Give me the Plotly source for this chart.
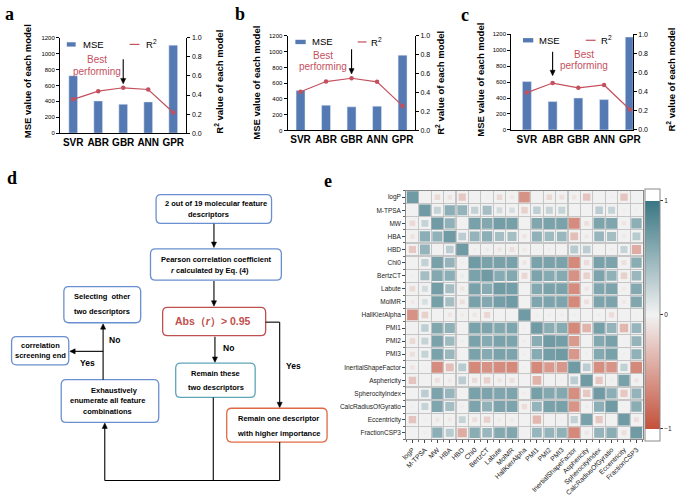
import numpy as np
import plotly.graph_objects as go

W, H = 685, 497
FONT = "Liberation Sans, Arial, sans-serif"
SERIF = "Liberation Serif, Times New Roman, serif"

# ---------------- data ----------------
models = ["SVR", "ABR", "GBR", "ANN", "GPR"]
mse_a = [723, 405, 364, 393, 1108]
r2_a = [0.355, 0.44, 0.476, 0.458, 0.217]
mse_b = [508, 320, 300, 308, 955]
r2_b = [0.41, 0.517, 0.552, 0.514, 0.26]
mse_c = [606, 355, 400, 380, 1165]
r2_c = [0.39, 0.49, 0.44, 0.47, 0.213]
best_a = "GBR"
best_b = "GBR"
best_c = "ABR"

descriptors = ["logP", "M-TPSA", "MW", "HBA", "HBD", "Chi0", "BertzCT", "Labute", "MolMR",
               "HallKierAlpha", "PMI1", "PMI2", "PMI3", "InertialShapeFactor", "Asphericity",
               "SpherocityIndex", "CalcRadiusOfGyratio", "Eccentricity", "FractionCSP3"]

# upper triangle of the Pearson correlation matrix (row i, columns i+1 .. 18)
corr_upper = [
    [0.02, -0.22, -0.14, -0.38, 0.02, 0.05, -0.22, -0.1, -0.85, 0.02, -0.22, -0.17, -0.13, -0.4, 0.02, -0.05, -0.4, 0.0],
    [0.35, 0.78, 0.72, 0.38, 0.6, 0.25, 0.22, -0.3, 0.4, 0.35, 0.35, 0.02, 0.0, 0.42, 0.35, -0.05, -0.05],
    [0.75, 0.02, 0.93, 0.85, 0.97, 0.95, 0.02, 0.87, 0.92, 0.92, -0.9, -0.17, 0.9, 0.88, -0.12, 0.78],
    [0.42, 0.72, 0.78, 0.6, 0.6, -0.12, 0.75, 0.65, 0.68, -0.45, -0.1, 0.7, 0.6, -0.1, 0.45],
    [-0.05, 0.08, -0.12, -0.17, -0.08, -0.03, 0.05, 0.01, 0.45, 0.42, -0.02, -0.06, 0.35, -0.62],
    [0.92, 0.93, 0.93, -0.12, 0.92, 0.92, 0.92, -0.93, -0.2, 0.93, 0.9, -0.17, 0.8],
    [0.82, 0.85, -0.25, 0.9, 0.83, 0.83, -0.85, -0.3, 0.9, 0.75, -0.3, 0.68],
    [0.97, 0.02, 0.85, 0.92, 0.92, -0.9, -0.12, 0.88, 0.9, -0.08, 0.85],
    [0.02, 0.88, 0.9, 0.9, -0.92, -0.17, 0.9, 0.9, -0.1, 0.87],
    [-0.05, -0.06, -0.06, 0.05, 0.02, -0.06, -0.2, 0.0, 0.03],
    [0.8, 0.82, -0.93, -0.55, 0.95, 0.72, -0.52, 0.7],
    [0.97, -0.78, 0.02, 0.85, 0.93, 0.02, 0.72],
    [-0.8, -0.05, 0.85, 0.93, -0.05, 0.75],
    [0.42, -0.88, -0.83, 0.38, -0.93],
    [-0.38, 0.06, 0.93, -0.12],
    [0.78, -0.38, 0.72],
    [0.02, 0.8],
    [-0.17],
]
cbar_ticks = [-1, 0, 1]
cbar_text = ["\u22121", "0", "1"]

# ---------------- helpers ----------------
def X(px):
    return px / W

def Y(py):
    return 1 - py / H

BAR_C = "#5479b3"
LINE_C = "#c4505e"
BLUE_B = "#6a8fd0"
TEAL_B = "#5ea6b8"
RED_B = "#c0504d"
ORG_B = "#df6a45"

fig = go.Figure()
shapes = []
ann = []

def txt(cx, cy, s, size=7.5, color="black", bold=True, angle=0, family=FONT):
    ann.append(dict(text=s, x=X(cx), y=Y(cy), xref="paper", yref="paper", showarrow=False,
                    xanchor="center", yanchor="middle", textangle=angle,
                    font=dict(family=family, size=size, color=color,
                              weight="bold" if bold else "normal")))

def seg(x0, y0, x1, y1, color="black", width=1.1):
    shapes.append(dict(type="line", xref="paper", yref="paper", x0=X(x0), y0=Y(y0),
                       x1=X(x1), y1=Y(y1), line=dict(color=color, width=width)))

def arrow(tx, ty, sx, sy, L=5.5, hw=2.6):
    d = np.hypot(tx - sx, ty - sy)
    ux, uy = (tx - sx) / d, (ty - sy) / d
    bx, by = tx - ux * L, ty - uy * L
    seg(sx, sy, bx + ux * 0.5, by + uy * 0.5)
    px, py = -uy, ux
    pts = [(tx, ty), (bx + px * hw, by + py * hw), (bx - px * hw, by - py * hw)]
    p = "M" + " L".join(f"{X(a)},{Y(b)}" for a, b in pts) + " Z"
    shapes.append(dict(type="path", xref="paper", yref="paper", path=p,
                       fillcolor="black", line=dict(color="black", width=0.5)))

panels = [
    # (xaxis, yleft, yright, mse, r2, best, xdom, ydom, xrange, legend, best text, arrow, titles)
    ("x", "y", "y2", mse_a, r2_a, best_a, (56, 185), (34.3, 131), (-0.53, 4.53),
     (63, 72, 41, 77, 127, 137, 142), (93.5, 56.7, 68.3), (56, 81), (23.3, 218.5, 78.5)),
    ("x2", "y3", "y4", mse_b, r2_b, best_b, (288, 418), (32.3, 128.3), (-0.51, 4.49),
     (296, 306.5, 38.5, 311, 359.5, 368.5, 371), (324.5, 52.3, 63.3), (46, 71), (256.7, 443.3, 80)),
    ("x3", "y5", "y6", mse_c, r2_c, best_c, (516, 640), (30.7, 127.7), (-0.61, 4.12),
     (528, 538.5, 36.8, 542.5, 592, 602, 606), (590.5, 51.7, 62.7), (48.5, 72.7), (485, 678.5, 77)),
]

layout_axes = {}
for i, (xa, yl, yr, mse, r2, best, xd, yd, xr, lg, bt, arr, tt) in enumerate(panels):
    fig.add_trace(go.Bar(x=models, y=mse, xaxis=xa, yaxis=yl, marker_color=BAR_C,
                         width=0.35, showlegend=False, name="MSE"))
    fig.add_trace(go.Scatter(x=models, y=r2, xaxis=xa, yaxis=yr, mode="lines+markers",
                             line=dict(color=LINE_C, width=1.2),
                             marker=dict(color=LINE_C, size=4.5), showlegend=False, name="R²"))
    xkey = "xaxis" if xa == "x" else "xaxis" + xa[1:]
    ylkey = "yaxis" if yl == "y" else "yaxis" + yl[1:]
    yrkey = "yaxis" + yr[1:]
    layout_axes[xkey] = dict(domain=[X(xd[0]), X(xd[1])], anchor=yl, range=list(xr),
                             type="category", showline=True, linecolor="black", linewidth=1,
                             ticks="", showgrid=False, zeroline=False,
                             tickfont=dict(family=FONT, size=10, color="black", weight="bold"))
    layout_axes[ylkey] = dict(domain=[Y(yd[1]), Y(yd[0])], anchor=xa, range=[0, 1200], dtick=200,
                              ticks="outside", ticklen=3, tickwidth=1, tickcolor="black",
                              showline=True, linecolor="black", linewidth=1,
                              showgrid=False, zeroline=False,
                              tickfont=dict(family=FONT, size=6, color="black"))
    layout_axes[yrkey] = dict(overlaying=yl, side="right", anchor=xa, range=[0, 1], dtick=0.2,
                              tickformat=".1f", ticks="outside", ticklen=3, tickwidth=1,
                              tickcolor="black", showline=True, linecolor="black", linewidth=1,
                              showgrid=False, zeroline=False,
                              tickfont=dict(family=FONT, size=7, color="black"))
    # axis titles
    txt(tt[0], tt[2], "MSE value of each model", size=9.5, angle=-90)
    txt(tt[1], tt[2], "R<sup>2</sup> value of each model", size=9.5, angle=-90)
    # legend
    rx0, rx1, ly, tx, lx0, lx1, tx2 = lg
    shapes.append(dict(type="rect", xref="paper", yref="paper", x0=X(rx0), x1=X(rx1),
                       y0=Y(ly + 2.2), y1=Y(ly - 2.2), fillcolor=BAR_C, line=dict(width=0)))
    seg(lx0, ly, lx1, ly, color=LINE_C, width=1.2)
    ann.append(dict(text="MSE", x=X(tx), y=Y(ly), xref="paper", yref="paper", xanchor="left",
                    yanchor="middle", showarrow=False, font=dict(family=FONT, size=9.5, color="black")))
    ann.append(dict(text="R<sup>2</sup>", x=X(tx2), y=Y(ly), xref="paper", yref="paper",
                    xanchor="left", yanchor="middle", showarrow=False,
                    font=dict(family=FONT, size=9.5, color="black")))
    # best performing
    txt(bt[0], bt[1], "Best", size=10, color=LINE_C, bold=False)
    txt(bt[0], bt[2], "performing", size=10, color=LINE_C, bold=False)
    k = models.index(best)
    bx = xd[0] + (k - xr[0]) / (xr[1] - xr[0]) * (xd[1] - xd[0])
    arrow(bx, arr[1], bx, arr[0])

# ---------------- heatmap ----------------
n = len(descriptors)
C = np.eye(n)
for i, row in enumerate(corr_upper):
    for k, v in enumerate(row):
        C[i, i + 1 + k] = v
        C[i + 1 + k, i] = v
rows, cols = np.meshgrid(np.arange(n), np.arange(n), indexing="ij")
vals = C.ravel()
smax = 11.6
sizes = smax * np.sqrt(0.01 + 0.99 * np.abs(vals))
RED = "#c4503a"
MID = "#f2f2f2"
TEAL = "#387683"
cmin, cmax = -1.105, 1.105
def pos(v):
    return (v - cmin) / (cmax - cmin)
cscale = [[0, "#ffffff"], [pos(-1.004), "#ffffff"], [pos(-1.003), RED], [0.5, MID],
          [pos(1.003), TEAL], [pos(1.004), "#ffffff"], [1, "#ffffff"]]
fig.add_trace(go.Scatter(
    x=cols.ravel(), y=rows.ravel(), mode="markers", xaxis="x4", yaxis="y7", showlegend=False,
    marker=dict(symbol="square", size=sizes, color=vals, colorscale=cscale, cmin=cmin, cmax=cmax,
                line=dict(width=0),
                colorbar=dict(x=X(652), xanchor="left", xpad=0, y=Y(315.3), yanchor="middle",
                              len=252, lenmode="pixels", thickness=15, thicknessmode="pixels",
                              ypad=0, outlinewidth=1, outlinecolor="#8a8a8a",
                              tickvals=cbar_ticks, ticktext=cbar_text, ticks="outside",
                              ticklen=3, tickcolor="#333",
                              tickfont=dict(family=FONT, size=6.5, color="#222"))),
))
hm_x = (409, 650)
hm_y = (189.3, 441.5)
grid_vals = [i - 0.5 for i in range(n + 1)]
layout_axes["xaxis4"] = dict(domain=[X(hm_x[0]), X(hm_x[1])], anchor="y7", range=[-0.5, n - 0.5],
                             tickvals=list(range(n)), ticktext=descriptors, tickangle=-45,
                             ticks="outside", ticklen=3, tickcolor="#444", showgrid=False,
                             zeroline=False, showline=True, mirror=True, linecolor="#8a8a8a",
                             linewidth=1,
                             minor=dict(tickvals=grid_vals, showgrid=True, gridcolor="#c6c6c6",
                                        gridwidth=1.2, ticks="outside", ticklen=2, tickcolor="#666"),
                             tickfont=dict(family=FONT, size=6.8, color="#222"))
layout_axes["yaxis7"] = dict(domain=[Y(hm_y[1]), Y(hm_y[0])], anchor="x4", range=[n - 0.5, -0.5],
                             tickvals=list(range(n)), ticktext=descriptors,
                             ticks="outside", ticklen=3, tickcolor="#444", showgrid=False,
                             zeroline=False, showline=True, mirror=True, linecolor="#8a8a8a",
                             linewidth=1,
                             minor=dict(tickvals=grid_vals, showgrid=True, gridcolor="#c6c6c6",
                                        gridwidth=1.2, ticks="outside", ticklen=2, tickcolor="#666"),
                             tickfont=dict(family=FONT, size=6.5, color="#222"))
shapes.append(dict(type="rect", xref="x4 domain", yref="y7 domain", x0=0, x1=1, y0=0, y1=1,
                   fillcolor="#f1f1f1", line=dict(width=0), layer="below"))

# ---------------- flowchart (panel d) ----------------
def rbox(x0, y0, x1, y1, color, r=5):
    rx, ry = r / W, r / H
    a0, a1 = X(x0), X(x1)
    b0, b1 = Y(y1), Y(y0)  # bottom, top in paper
    p = (f"M{a0+rx},{b1} L{a1-rx},{b1} Q{a1},{b1} {a1},{b1-ry} L{a1},{b0+ry} "
         f"Q{a1},{b0} {a1-rx},{b0} L{a0+rx},{b0} Q{a0},{b0} {a0},{b0+ry} "
         f"L{a0},{b1-ry} Q{a0},{b1} {a0+rx},{b1} Z")
    shapes.append(dict(type="path", xref="paper", yref="paper", path=p,
                       line=dict(color=color, width=1.3), fillcolor="white"))

rbox(154, 193.3, 271.7, 222.5, BLUE_B)
txt(215, 202.7, "2 out of 19 molecular feature")
txt(207.5, 214, "descriptors")
arrow(213, 247, 213, 223)

rbox(148.3, 248.3, 281.7, 280, BLUE_B)
txt(216, 259.3, "Pearson correlation coefficient")
txt(208.5, 270.3, "<i>r</i> calculated by Eq. (4)")
arrow(213, 306.5, 213, 281)

rbox(160.7, 307.7, 265.7, 336.3, RED_B)
txt(212.5, 322.3, "Abs\uff08<i>r</i>\uff09> 0.95", size=10.5, color=RED_B)

arrow(214, 363.5, 214, 337.5)
txt(227.5, 349.3, "No", size=8.5)
seg(265.7, 322.7, 280, 322.7)
arrow(280, 409.5, 280, 322.7)
txt(294.5, 367.3, "Yes", size=8.5)

rbox(174, 364.3, 255, 399, TEAL_B)
txt(214.5, 374.3, "Remain these")
txt(214.7, 389.3, "two descriptors")

rbox(226, 410, 328.3, 444.3, ORG_B)
txt(278.7, 420.7, "Remain one descriptor")
txt(279.8, 435.3, "with higher importance")

seg(212.3, 399, 212.3, 483.3)
seg(280, 444.3, 280, 483.3)
seg(101.7, 483.3, 280, 483.3)
arrow(101.7, 425, 101.7, 483.3)

rbox(57.3, 381, 156.7, 424.3, BLUE_B)
txt(111.8, 391.7, "Exhaustively")
txt(104.5, 402.6, "enumerate all feature")
txt(104.5, 413.7, "combinations")

arrow(100, 324.3, 100, 381)
txt(111.7, 340.7, "No", size=8.5)
arrow(66, 352.3, 100, 352.3)
txt(84, 364, "Yes", size=8.5)

rbox(60, 286.7, 138.3, 323.3, BLUE_B)
txt(99.3, 296.7, "Selecting&nbsp;&nbsp;other")
txt(99.3, 311.7, "two descriptors")

rbox(6.7, 337.3, 65, 366, BLUE_B)
txt(35.8, 346.7, "correlation")
txt(35.8, 356.3, "screening end")

# ---------------- panel labels ----------------
for lab, cx, cy in [("a", 5, 10), ("b", 240, 9.8), ("c", 469, 11), ("d", 6.7, 176.5),
                    ("e", 329.5, 180)]:
    txt(cx, cy, lab, size=18, family=SERIF)

fig.update_layout(width=W, height=H, autosize=False, margin=dict(l=0, r=0, t=0, b=0),
                  paper_bgcolor="white", plot_bgcolor="white", showlegend=False,
                  shapes=shapes, annotations=ann, **layout_axes)
fig.write_html("out.html", config={"displayModeBar": False, "staticPlot": True},
               post_script="document.body.style.margin='0px';document.body.style.padding='0px';")
